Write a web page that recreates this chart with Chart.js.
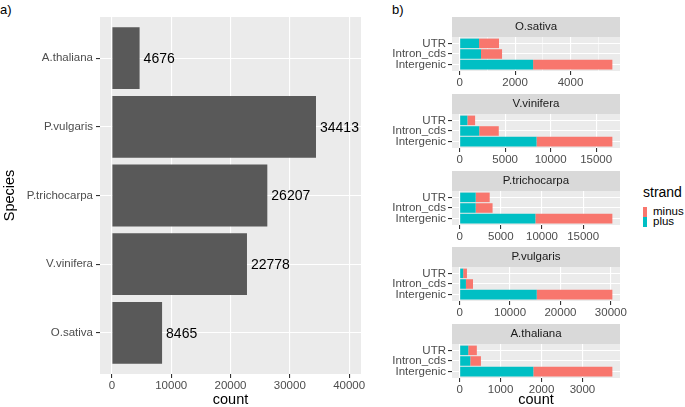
<!DOCTYPE html>
<html>
<head>
<meta charset="utf-8">
<script src="https://cdn.jsdelivr.net/npm/chart.js@4.4.1/dist/chart.umd.min.js"></script>
<style>
    body { margin: 0; background: #ffffff; }
    #wrap { position: relative; width: 685px; height: 407px; overflow: hidden; font-family: "Liberation Sans", Arial, Helvetica, sans-serif; }
    .tag { position: absolute; font-size: 13px; color: #000; line-height: 1; }
    .legend-title { position: absolute; left: 643px; top: 185px; font-size: 14px; color: #000; line-height: 1; }
    .key { position: absolute; left: 643px; width: 4px; height: 10px; }
    .key-text { position: absolute; left: 653px; font-size: 11.5px; color: #000; line-height: 1; }
    canvas { position: absolute; }
</style>
</head>
<body>
<div id="wrap">
    <div class="tag" style="left:0px;top:3px">a)</div>
    <div class="tag" style="left:392px;top:3px">b)</div>
    <canvas id="speciesChart" width="372" height="407" style="left:0;top:0"></canvas>

    <div class="legend-title">strand</div>
    <div class="key" style="top:207px;background:#F8766D"></div>
    <div class="key-text" style="top:206px">minus</div>
    <div class="key" style="top:217px;background:#00BFC4"></div>
    <div class="key-text" style="top:216px">plus</div>
</div>
<script>
/* Panel a: total per species (top to bottom as drawn) */
const species = ['A.thaliana', 'P.vulgaris', 'P.trichocarpa', 'V.vinifera', 'O.sativa'];
const speciesCounts = [4676, 34413, 26207, 22778, 8465];
const countTicks = [0, 10000, 20000, 30000, 40000];
const countLimit = 40000;

/* Panel b: counts per region and strand for each species */
const regions = ['UTR', 'Intron_cds', 'Intergenic'];
const facetNames = ['O.sativa', 'V.vinifera', 'P.trichocarpa', 'P.vulgaris', 'A.thaliana'];
const osativaPlus = [700, 770, 2650];
const osativaMinus = [720, 760, 2860];
const viniferaPlus = [850, 2150, 8450];
const viniferaMinus = [850, 2150, 8330];
const trichocarpaPlus = [1950, 1950, 9200];
const trichocarpaMinus = [1700, 2050, 9350];
const vulgarisPlus = [700, 1250, 15300];
const vulgarisMinus = [750, 1400, 15000];
const thalianaPlus = [210, 260, 1800];
const thalianaMinus = [210, 260, 1930];
const osativaTicks = [0, 2000, 4000];
const viniferaTicks = [0, 5000, 10000, 15000];
const trichocarpaTicks = [0, 5000, 10000, 15000];
const vulgarisTicks = [0, 10000, 20000, 30000];
const thalianaTicks = [0, 1000, 2000, 3000];

const FONT = '"Liberation Sans", Arial, Helvetica, sans-serif';
const AXIS_TEXT = '#4D4D4D';

// ggplot pads continuous scales by 5% on each side
const expandRange = function(lo, hi) {
    const pad = (hi - lo) * 0.05;
    return [lo - pad, hi + pad];
}

// major breaks plus the minor ones half way between
const withMinor = function(major, max) {
    const step = major[1] - major[0];
    const ticks = major.slice();
    major.forEach((v) => { if (v + step / 2 <= max) ticks.push(v + step / 2) });
    return ticks.sort((a, b) => a - b);
}

const toPoints = function(values) {
    return values.map((v, i) => ({ x: v, y: i + 1 }));
}

const xGrid = function(majors) {
    const isMajor = (ctx) => ctx.tick && majors.includes(ctx.tick.value);
    return {
        color: '#FFFFFF',
        lineWidth: (ctx) => isMajor(ctx) ? 1.1 : 0.55,
        tickColor: (ctx) => isMajor(ctx) ? '#333333' : 'rgba(0,0,0,0)',
        tickWidth: 1.1,
        tickLength: 4,
        offset: false
    }
}

const yGrid = {
    color: '#FFFFFF',
    lineWidth: 1.1,
    tickColor: '#333333',
    tickWidth: 1.1,
    tickLength: 4,
    offset: false
}

/* grey panel, and the facet strip when a title is given */
const makePanel = function(title) {
    return {
        id: 'panel',
        beforeDraw(chart) {
            const a = chart.chartArea;
            const ctx = chart.ctx;
            ctx.save();
            ctx.fillStyle = '#EBEBEB';
            ctx.fillRect(a.left, a.top, a.right - a.left, a.bottom - a.top);
            if (title) {
                ctx.fillStyle = '#D9D9D9';
                ctx.fillRect(a.left, a.top - 20, a.right - a.left, 20);
                ctx.fillStyle = '#1A1A1A';
                ctx.font = '11.5px ' + FONT;
                ctx.textAlign = 'center';
                ctx.textBaseline = 'middle';
                ctx.fillText(title, (a.left + a.right) / 2, a.top - 10);
            }
            ctx.restore();
        }
    }
}

/* count written to the right of each bar */
const barValues = {
    id: 'barValues',
    afterDatasetsDraw(chart) {
        const ctx = chart.ctx;
        ctx.save();
        ctx.fillStyle = '#000000';
        ctx.font = '14px ' + FONT;
        ctx.textBaseline = 'middle';
        chart.getDatasetMeta(0).data.forEach((bar, i) => {
            ctx.fillText(String(speciesCounts[i]), bar.x + 4, bar.y + 1);
        });
        ctx.restore();
    }
}

/* Panel a */
const countRange = expandRange(0, countLimit);
new Chart(document.getElementById('speciesChart'), {
    type: 'bar',
    data: {
        datasets: [{
            data: toPoints(speciesCounts),
            backgroundColor: '#595959',
            borderWidth: 0,
            categoryPercentage: 0.9,
            barPercentage: 1
        }]
    },
    options: {
        indexAxis: 'y',
        responsive: false,
        animation: false,
        layout: { padding: { top: 17, right: 11, left: 0, bottom: 0 } },
        plugins: { legend: { display: false }, tooltip: { enabled: false } },
        scales: {
            x: {
                type: 'linear',
                min: countRange[0],
                max: countRange[1],
                beginAtZero: false,
                afterBuildTicks: (axis) => { axis.ticks = withMinor(countTicks, countRange[1]).map((v) => ({ value: v })) },
                afterFit: (scale) => { scale.height = 33 },
                ticks: {
                    color: AXIS_TEXT,
                    font: { family: FONT, size: 11.5 },
                    padding: 1,
                    maxRotation: 0,
                    callback: (v) => countTicks.includes(v) ? String(v) : ''
                },
                grid: xGrid(countTicks),
                border: { display: false },
                title: {
                    display: true,
                    text: 'count',
                    color: '#000000',
                    font: { family: FONT, size: 14.5, lineHeight: 1 },
                    padding: 0
                }
            },
            y: {
                type: 'linear',
                reverse: true,
                min: 0.4,
                max: species.length + 0.6,
                offset: false,
                afterBuildTicks: (axis) => { axis.ticks = species.map((_, i) => ({ value: i + 1 })) },
                afterFit: (scale) => { scale.width = 100 },
                ticks: {
                    color: AXIS_TEXT,
                    font: { family: FONT, size: 11.5 },
                    padding: 3,
                    callback: (v) => species[Math.round(v) - 1]
                },
                grid: yGrid,
                border: { display: false },
                title: {
                    display: true,
                    text: 'Species',
                    color: '#000000',
                    font: { family: FONT, size: 14.5, lineHeight: 1 },
                    padding: { top: 3, bottom: 0 }
                }
            }
        }
    },
    plugins: [makePanel(null), barValues]
});

/* Panel b: one small chart per species */
const facetPlus = [osativaPlus, viniferaPlus, trichocarpaPlus, vulgarisPlus, thalianaPlus];
const facetMinus = [osativaMinus, viniferaMinus, trichocarpaMinus, vulgarisMinus, thalianaMinus];
const facetTicks = [osativaTicks, viniferaTicks, trichocarpaTicks, vulgarisTicks, thalianaTicks];
const wrap = document.getElementById('wrap');

facetNames.forEach((name, index) => {
    const last = index === facetNames.length - 1;
    const top = Math.round(17 + 76.75 * index);
    const canvas = document.createElement('canvas');
    canvas.width = 250;
    canvas.height = last ? 407 - top : 72;
    canvas.style.left = '380px';
    canvas.style.top = top + 'px';
    wrap.appendChild(canvas);

    const plus = facetPlus[index];
    const minus = facetMinus[index];
    const majors = facetTicks[index];
    const totalMax = Math.max(...plus.map((v, i) => v + minus[i]));
    const range = expandRange(0, totalMax);

    new Chart(canvas, {
        type: 'bar',
        data: {
            datasets: [
                { label: 'plus', data: toPoints(plus), backgroundColor: '#00BFC4', borderWidth: 0, categoryPercentage: 0.9, barPercentage: 1 },
                { label: 'minus', data: toPoints(minus), backgroundColor: '#F8766D', borderWidth: 0, categoryPercentage: 0.9, barPercentage: 1 }
            ]
        },
        options: {
            indexAxis: 'y',
            responsive: false,
            animation: false,
            layout: { padding: { top: 20, right: 10, left: 0, bottom: 0 } },
            plugins: { legend: { display: false }, tooltip: { enabled: false } },
            scales: {
                x: {
                    type: 'linear',
                    stacked: true,
                    min: range[0],
                    max: range[1],
                    beginAtZero: false,
                    afterBuildTicks: (axis) => { axis.ticks = withMinor(majors, range[1]).map((v) => ({ value: v })) },
                    afterFit: (scale) => { scale.height = last ? 29 : 18 },
                    ticks: {
                        color: AXIS_TEXT,
                        font: { family: FONT, size: 11.5 },
                        padding: 1,
                        maxRotation: 0,
                        callback: (v) => majors.includes(v) ? String(v) : ''
                    },
                    grid: xGrid(majors),
                    border: { display: false },
                    title: {
                        display: last,
                        text: 'count',
                        color: '#000000',
                        font: { family: FONT, size: 14.5, lineHeight: 1 },
                        padding: 0
                    }
                },
                y: {
                    type: 'linear',
                    stacked: true,
                    reverse: true,
                    min: 0.4,
                    max: regions.length + 0.6,
                    offset: false,
                    afterBuildTicks: (axis) => { axis.ticks = regions.map((_, i) => ({ value: i + 1 })) },
                    afterFit: (scale) => { scale.width = 72 },
                    ticks: {
                        color: AXIS_TEXT,
                        font: { family: FONT, size: 11.5 },
                        padding: 2,
                        callback: (v) => regions[Math.round(v) - 1]
                    },
                    grid: yGrid,
                    border: { display: false }
                }
            }
        },
        plugins: [makePanel(name)]
    });
});
</script>
</body>
</html>
